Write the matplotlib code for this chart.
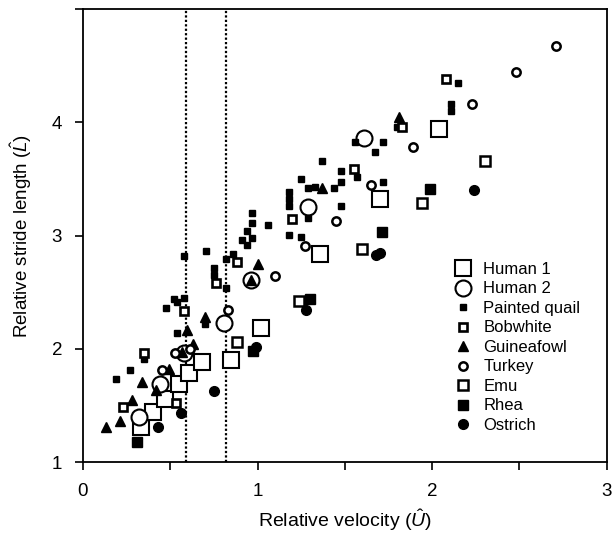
import matplotlib.pyplot as plt
from matplotlib.ticker import MultipleLocator

plt.rcParams['font.family'] = ['Liberation Sans', 'DejaVu Sans']
plt.rcParams['mathtext.fontset'] = 'custom'
plt.rcParams['mathtext.rm'] = 'Liberation Sans'
plt.rcParams['mathtext.it'] = 'Liberation Sans:italic'

# (relative velocity, relative stride length)
human1_u = [0.33, 0.40, 0.47, 0.55, 0.605, 0.68, 0.85, 1.02, 1.36, 1.70, 2.04]
human1_l = [1.31, 1.44, 1.56, 1.69, 1.79, 1.88, 1.90, 2.18, 2.84, 3.32, 3.94]

human2_u = [0.32, 0.44, 0.58, 0.81, 0.965, 1.29, 1.61]
human2_l = [1.40, 1.69, 1.96, 2.23, 2.61, 3.25, 3.86]

quail_u = [0.58, 0.705, 0.82, 0.86, 0.75, 0.75, 0.82, 0.52, 0.54, 0.58, 0.475, 0.54,
           0.35, 0.27, 0.19, 0.70, 0.97, 0.97, 1.06, 0.94, 0.91, 0.97, 0.94, 1.18,
           1.25, 1.18, 1.18, 1.29, 1.48, 1.18, 1.29, 1.33, 1.44, 1.25, 1.48, 1.37,
           1.48, 1.57, 1.72, 1.56, 1.72, 1.67, 1.80, 2.15, 2.11, 2.11]
quail_l = [2.82, 2.86, 2.79, 2.84, 2.71, 2.65, 2.54, 2.44, 2.41, 2.45, 2.36, 2.14,
           1.91, 1.81, 1.73, 2.22, 3.20, 3.11, 3.09, 3.04, 2.96, 2.98, 2.92, 3.01,
           2.99, 3.32, 3.26, 3.16, 3.26, 3.39, 3.42, 3.43, 3.42, 3.50, 3.47, 3.66,
           3.57, 3.52, 3.47, 3.83, 3.83, 3.74, 3.96, 4.35, 4.16, 4.10]

bobwhite_u = [0.88, 0.76, 0.58, 0.35, 0.23, 0.535, 1.20, 1.55, 1.83, 2.08]
bobwhite_l = [2.77, 2.58, 2.33, 1.96, 1.49, 1.52, 3.15, 3.59, 3.96, 4.38]

guinea_u = [1.00, 0.96, 0.70, 0.596, 0.63, 0.57, 0.49, 0.34, 0.42, 0.28, 0.21, 0.13, 1.37, 1.81]
guinea_l = [2.75, 2.61, 2.28, 2.17, 2.04, 1.97, 1.82, 1.71, 1.64, 1.55, 1.36, 1.31, 3.42, 4.05]

turkey_u = [1.10, 0.83, 0.525, 0.615, 0.45, 1.27, 1.45, 1.65, 1.89, 2.23, 2.48, 2.71]
turkey_l = [2.64, 2.34, 1.96, 2.00, 1.81, 2.91, 3.13, 3.45, 3.78, 4.16, 4.45, 4.68]

emu_u = [0.88, 1.24, 1.60, 1.94, 2.30]
emu_l = [2.06, 2.42, 2.88, 3.29, 3.66]

rhea_u = [0.31, 0.975, 1.30, 1.71, 1.99]
rhea_l = [1.18, 1.98, 2.44, 3.03, 3.41]

ostrich_u = [0.43, 0.56, 0.75, 0.99, 1.28, 1.68, 1.70, 2.24]
ostrich_l = [1.31, 1.43, 1.63, 2.02, 2.34, 2.83, 2.85, 3.40]

walk_run_lines = [0.59, 0.82]

fig = plt.figure(figsize=(6.12, 5.34), dpi=100)
ax = fig.add_axes([0.1356, 0.1348, 0.8558, 0.8478])

# dotted lines behind the points
for u in walk_run_lines:
    ax.axvline(u, color='black', linestyle=(0, (1, 1)), linewidth=1.6, zorder=1)

ax.plot(human1_u, human1_l, 's', ms=11.5, mfc='white', mec='black', mew=1.5, label='Human 1', zorder=3)
ax.plot(human2_u, human2_l, 'o', ms=11.5, mfc='white', mec='black', mew=1.5, label='Human 2', zorder=3)
ax.plot(quail_u, quail_l, 's', ms=4.3, color='black', label='Painted quail', zorder=4)
ax.plot(bobwhite_u, bobwhite_l, 's', ms=5.6, mfc='white', mec='black', mew=1.9, label='Bobwhite', zorder=4)
ax.plot(guinea_u, guinea_l, '^', ms=7, color='black', label='Guineafowl', zorder=4)
ax.plot(turkey_u, turkey_l, 'o', ms=6, mfc='white', mec='black', mew=1.8, label='Turkey', zorder=4)
ax.plot(emu_u, emu_l, 's', ms=6.5, mfc='white', mec='black', mew=1.8, label='Emu', zorder=4)
ax.plot(rhea_u, rhea_l, 's', ms=6.5, color='black', label='Rhea', zorder=4)
ax.plot(ostrich_u, ostrich_l, 'o', ms=7, color='black', label='Ostrich', zorder=4)

ax.set_xlim(0, 3)
ax.set_ylim(1, 5)
ax.set_xticks([0, 1, 2, 3])
ax.xaxis.set_minor_locator(MultipleLocator(0.5))
ax.set_yticks([1, 2, 3, 4, 5])
ax.set_yticklabels(['1', '2', '3', '4', ''])
ax.tick_params(which='major', direction='out', length=6, width=1.2, labelsize=13.5, pad=9)
ax.tick_params(which='minor', direction='out', length=6, width=1.2)
for s in ax.spines.values():
    s.set_linewidth(1.3)

ax.set_xlabel(r'Relative velocity ($\hat{U}$)', fontsize=14, labelpad=5)
ax.set_ylabel(r'Relative stride length ($\hat{L}$)', fontsize=13.5, labelpad=13)

ax.legend(loc='upper left', bbox_to_anchor=(0.727, 0.525), bbox_transform=fig.transFigure,
          frameon=False, fontsize=12, labelspacing=0.27, handletextpad=0.6,
          handlelength=1.2, borderpad=0, numpoints=1)

fig.savefig('out.png', dpi=100)
